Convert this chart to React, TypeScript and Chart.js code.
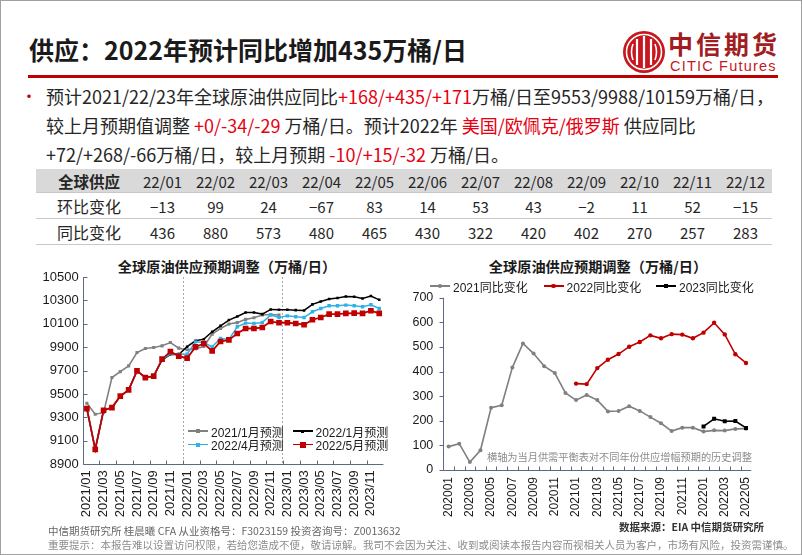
import React, { useEffect, useRef } from "react";
import { Chart, registerables } from "chart.js";
Chart.register(...registerables);

// ---------------- data ----------------
const leftLabels = [
  "2021/01","2021/02","2021/03","2021/04","2021/05","2021/06","2021/07","2021/08","2021/09","2021/10","2021/11","2021/12",
  "2022/01","2022/02","2022/03","2022/04","2022/05","2022/06","2022/07","2022/08","2022/09","2022/10","2022/11","2022/12",
  "2023/01","2023/02","2023/03","2023/04","2023/05","2023/06","2023/07","2023/08","2023/09","2023/10","2023/11","2023/12",
];
const fc2021Jan = [
  9422, 9328, 9341, 9641, 9692, 9741, 9855, 9889, 9898, 9912, 9940, 9892,
  9878, 9888, 9906, 10012, 10060, 10098, 10110, 10138, 10152, 10175, 10180, 10175,
  null, null, null, null, null, null, null, null, null, null, null, null,
];
const fc2022Jan = [
  9376, 9028, 9362, 9384, 9482, 9536, 9698, 9641, 9653, 9790, 9840, 9838,
  9905, 9955, 9969, 10032, 10083, 10132, 10163, 10197, 10196, 10183, 10223, 10220,
  10220, 10217, 10214, 10266, 10291, 10312, 10320, 10334, 10331, 10317, 10337, 10305,
];
const fc2022Apr = [
  9376, 9028, 9362, 9384, 9482, 9536, 9698, 9641, 9653, 9795, 9845, 9842,
  9841, 9946, 9940, 9903, 9976, 9966, 10075, 10106, 10103, 10111, 10176, 10154,
  10168, 10160, 10154, 10203, 10231, 10254, 10254, 10260, 10254, 10246, 10263, 10231,
];
const fc2022May = [
  9376, 9028, 9362, 9384, 9482, 9536, 9698, 9641, 9653, 9798, 9863, 9824,
  9807, 9903, 9932, 9869, 9949, 9963, 10017, 10060, 10060, 10069, 10120, 10109,
  10109, 10103, 10092, 10135, 10154, 10183, 10183, 10189, 10192, 10189, 10212, 10189,
];

const rightLabels = [
  "202001","202002","202003","202004","202005","202006","202007","202008","202009","202010","202011","202012",
  "202101","202102","202103","202104","202105","202106","202107","202108","202109","202110","202111","202112",
  "202201","202202","202203","202204","202205",
];
const yoy2021 = [95, 107, 32, 80, 253, 263, 416, 514, 473, 422, 394, 313, 284, 305, 284, 238, 240, 259, 240, 215, 190, 158, 172, 172, 156, 161, 160, 167, 168];
const yoy2022 = [null, null, null, null, null, null, null, null, null, null, null, null, 351, 349, 414, 448, 471, 501, 520, 547, 535, 552, 550, 535, 558, 598, 551, 470, 435];
const yoy2023 = [null, null, null, null, null, null, null, null, null, null, null, null, null, null, null, null, null, null, null, null, null, null, null, null, 177, 208, 198, 199, 171];

const tableMonths = ["22/01","22/02","22/03","22/04","22/05","22/06","22/07","22/08","22/09","22/10","22/11","22/12"];
const momChange = [-13, 99, 24, -67, 83, 14, 53, 43, -2, 11, 52, -15];
const yoyChange = [436, 880, 573, 480, 465, 430, 322, 420, 402, 270, 257, 283];

// ---------------- styles ----------------
const CJK = "'Noto Sans CJK SC', 'Noto Sans', sans-serif";
const LAT = "'Liberation Sans', 'Noto Sans CJK SC', Arial, sans-serif";
const RED_TXT = "#e60012";
const GRAY = "#808080";
const DARKRED = "#c00000";
const BLUE = "#2fb2e8";
const AXIS = "#5b6a82";

const decorPlugin = {
  id: "decor",
  beforeDatasetsDraw(chart: any, _a: any, opts: any) {
    const { ctx, chartArea: a, scales } = chart;
    const xs = scales.x, ys = scales.y;
    ctx.save();
    if (opts.dashed) {
      ctx.strokeStyle = "#a6a6a6";
      ctx.lineWidth = 1;
      ctx.setLineDash([2, 2]);
      for (const v of opts.dashed) {
        const px = Math.round(xs.getPixelForValue(v)) + 0.5;
        ctx.beginPath(); ctx.moveTo(px, a.top); ctx.lineTo(px, a.bottom); ctx.stroke();
      }
      ctx.setLineDash([]);
    }
    ctx.strokeStyle = opts.axisColor;
    ctx.lineWidth = 1;
    const L = Math.round(a.left) + 0.5, B = Math.round(a.bottom) + 0.5;
    ctx.beginPath(); ctx.moveTo(L, a.top); ctx.lineTo(L, B); ctx.lineTo(a.right, B); ctx.stroke();
    for (const t of ys.ticks) {
      const py = Math.round(ys.getPixelForValue(t.value)) + 0.5;
      ctx.beginPath(); ctx.moveTo(L + opts.yTick, py); ctx.lineTo(L, py); ctx.stroke();
    }
    const n = xs.getLabels().length;
    for (let i = opts.xTickStart; i < n - 1; i += opts.xTickStep) {
      const px = Math.round(xs.getPixelForValue(i + 0.5)) + 0.5;
      ctx.beginPath(); ctx.moveTo(px, B); ctx.lineTo(px, B - opts.xTick); ctx.stroke();
    }
    ctx.restore();
  },
};

function everyOther(this: any, val: any, idx: number) {
  return idx % 2 === 0 ? this.getLabelForValue(val) : "";
}

function LeftChart() {
  const ref = useRef<HTMLCanvasElement>(null);
  useEffect(() => {
    const line = (label: string, data: any[], color: string, r: number, w: number, order: number) => ({
      label, data, borderColor: color, backgroundColor: color, borderWidth: w,
      pointStyle: "rect", pointRadius: r, pointBorderWidth: 0, pointBackgroundColor: color,
      tension: 0, spanGaps: false, order,
    });
    const chart = new Chart(ref.current!, {
      type: "line",
      data: {
        labels: leftLabels,
        datasets: [
          line("2021/1月预测", fc2021Jan, GRAY, 2.2, 1.6, 3),
          line("2022/1月预测", fc2022Jan, "#000000", 1.8, 1.5, 2),
          line("2022/4月预测", fc2022Apr, BLUE, 2.4, 1.5, 1),
          line("2022/5月预测", fc2022May, DARKRED, 4, 1.8, 0),
        ],
      },
      options: {
        animation: false,
        responsive: false,
        maintainAspectRatio: false,
        layout: { padding: { top: 18, right: 10.7, left: 0, bottom: 0 } },
        plugins: {
          legend: { display: false },
          tooltip: { enabled: false },
          decor: { dashed: [11.5, 23.3], axisColor: AXIS, yTick: 4, xTick: 4, xTickStart: 1, xTickStep: 2 },
        } as any,
        scales: {
          x: {
            type: "category",
            offset: true,
            grid: { display: false, drawTicks: false },
            border: { display: false },
            ticks: {
              autoSkip: false, minRotation: 90, maxRotation: 90, padding: 6,
              color: "#1a1a1a", font: { family: LAT, size: 13 },
              callback: everyOther,
            },
            afterFit: (s: any) => { s.height = 64.7; },
          },
          y: {
            min: 8900, max: 10500,
            grid: { display: false, drawTicks: false },
            border: { display: false },
            ticks: {
              stepSize: 200, padding: 4, color: "#1a1a1a", font: { family: LAT, size: 13 },
              callback: (v: any) => String(v),
            },
            afterFit: (s: any) => { s.width = 81.7; },
          },
        },
      },
      plugins: [decorPlugin],
    } as any);
    return () => chart.destroy();
  }, []);
  return <canvas ref={ref} width={400} height={270} style={{ position: "absolute", left: 0, top: 258, width: 400, height: 270 }} />;
}

function RightChart() {
  const ref = useRef<HTMLCanvasElement>(null);
  useEffect(() => {
    const line = (label: string, data: any[], color: string, style: string, r: number, order: number) => ({
      label, data, borderColor: color, backgroundColor: color, borderWidth: 1.6,
      pointStyle: style, pointRadius: r, pointBorderWidth: 0, pointBackgroundColor: color,
      tension: 0, spanGaps: false, order,
    });
    const chart = new Chart(ref.current!, {
      type: "line",
      data: {
        labels: rightLabels,
        datasets: [
          line("2021同比变化", yoy2021, GRAY, "circle", 2, 2),
          line("2022同比变化", yoy2022, DARKRED, "circle", 2.2, 1),
          line("2023同比变化", yoy2023, "#000000", "rect", 2.8, 0),
        ],
      },
      options: {
        animation: false,
        responsive: false,
        maintainAspectRatio: false,
        layout: { padding: { top: 38.7, right: 51.7, left: 0, bottom: 0 } },
        plugins: {
          legend: { display: false },
          tooltip: { enabled: false },
          decor: { axisColor: AXIS, yTick: -4, xTick: 4, xTickStart: 0, xTickStep: 1 },
        } as any,
        scales: {
          x: {
            type: "category",
            offset: true,
            grid: { display: false, drawTicks: false },
            border: { display: false },
            ticks: {
              autoSkip: false, minRotation: 90, maxRotation: 90, padding: 7,
              color: "#1a1a1a", font: { family: LAT, size: 12 },
              callback: everyOther,
            },
            afterFit: (s: any) => { s.height = 59; },
          },
          y: {
            min: 0, max: 700,
            grid: { display: false, drawTicks: false },
            border: { display: false },
            ticks: {
              stepSize: 100, padding: 10, color: "#1a1a1a", font: { family: LAT, size: 12.5 },
              callback: (v: any) => String(v),
            },
            afterFit: (s: any) => { s.width = 42.3; },
          },
        },
      },
      plugins: [decorPlugin],
    } as any);
    return () => chart.destroy();
  }, []);
  return <canvas ref={ref} width={402} height={270} style={{ position: "absolute", left: 400, top: 258, width: 402, height: 270 }} />;
}

function Sym({ color, shape, size, w = 20 }: { color: string; shape: string; size: number; w?: number }) {
  return (
    <span style={{ position: "relative", display: "inline-block", width: w, height: 10 }}>
      <span style={{ position: "absolute", left: 0, width: w, top: 4.2, height: 1.6, background: color }} />
      <span style={{ position: "absolute", left: w / 2 - size / 2, top: 5 - size / 2, width: size, height: size, background: color, borderRadius: shape === "circle" ? "50%" : 0 }} />
    </span>
  );
}

function LegendItem({ x, y, color, shape, size, label, fs = 12, w = 20 }: any) {
  return (
    <div style={{ position: "absolute", left: x, top: y - 9, height: 18, display: "flex", alignItems: "center", whiteSpace: "nowrap", fontFamily: LAT, fontSize: fs, color: "#1a1a1a" }}>
      <Sym color={color} shape={shape} size={size} w={w} />
      <span style={{ marginLeft: 3 }}>{label}</span>
    </div>
  );
}

function Centered({ x, y, children, style }: any) {
  return (
    <div style={{ position: "absolute", left: x, top: y, transform: "translate(-50%, -50%)", whiteSpace: "nowrap", ...style }}>{children}</div>
  );
}

const R = ({ children }: any) => <span style={{ color: RED_TXT }}>{children}</span>;

function Logo() {
  return (
    <>
      <svg width={44} height={44} viewBox="0 0 44 44" style={{ position: "absolute", left: 621, top: 29 }}>
        <circle cx={22} cy={22} r={21} fill="#c8161d" />
        <circle cx={22} cy={22} r={17.5} fill="none" stroke="#fff" strokeWidth={1.6} />
        <path d="M15 9 L15 35 M22 6 L22 38 M29 9 L29 35" stroke="#fff" strokeWidth={2.2} />
        <path d="M11 14 Q8 22 11 30 M33 14 Q36 22 33 30" stroke="#fff" strokeWidth={1.6} fill="none" />
      </svg>
      <div style={{ position: "absolute", left: 667, top: 27, fontFamily: CJK, fontWeight: 700, fontSize: 25, lineHeight: "30px", color: "#a11d21", letterSpacing: 3 }}>中信期货</div>
      <div style={{ position: "absolute", left: 669, top: 57, fontFamily: "'Liberation Sans', Arial, sans-serif", fontSize: 14.5, lineHeight: "16px", color: "#c8161d", letterSpacing: 1.2 }}>CITIC Futures</div>
    </>
  );
}

function Table() {
  const left = 35, firstW = 100, colW = 53;
  const rowStyle = (top: number, h: number, bg?: string): React.CSSProperties => ({
    position: "absolute", left, top, width: firstW + colW * 12, height: h, background: bg || "transparent",
    borderBottom: "1px solid #c8c8c8", boxSizing: "border-box",
  });
  const cell = (x: number, y: number, text: any, extra: any = {}) => (
    <Centered x={x} y={y} style={{ fontFamily: CJK, fontSize: 15, color: "#262626", ...extra }}>{text}</Centered>
  );
  const fmt = (v: number) => (v < 0 ? "−" + Math.abs(v) : String(v));
  const labelX = left + 53;
  return (
    <>
      <div style={rowStyle(168, 24, "#d9d9d9")} />
      <div style={rowStyle(192, 26)} />
      <div style={rowStyle(218, 26)} />
      {cell(labelX, 180, "全球供应", { fontWeight: 700, fontSize: 15.5 })}
      {cell(labelX, 205, "环比变化", { fontSize: 16 })}
      {cell(labelX, 231, "同比变化", { fontSize: 16 })}
      {tableMonths.map((m, i) => (
        <React.Fragment key={m}>
          {cell(left + firstW + colW * i + colW / 2, 180, m)}
          {cell(left + firstW + colW * i + colW / 2, 205, fmt(momChange[i]))}
          {cell(left + firstW + colW * i + colW / 2, 231, fmt(yoyChange[i]))}
        </React.Fragment>
      ))}
    </>
  );
}

export default function App() {
  const textLine = (y: number, content: any) => (
    <div style={{ position: "absolute", left: 45, top: y - 14.5, height: 29, lineHeight: "29px", whiteSpace: "nowrap", fontFamily: CJK, fontSize: 18, color: "#262626" }}>{content}</div>
  );
  return (
    <div style={{ position: "fixed", left: 0, top: 0, width: 802, height: 555, background: "#fff", overflow: "hidden", boxSizing: "border-box", border: "1px solid #a0a0a0", fontFamily: CJK }}>
      <div style={{ position: "absolute", left: 28, top: 30, lineHeight: "36px", fontFamily: CJK, fontWeight: 700, fontSize: 25, color: "#1a1a1a", whiteSpace: "nowrap" }}>
        供应：2022年预计同比增加435万桶/日
      </div>
      <Logo />
      <div style={{ position: "absolute", left: 27, top: 74, width: 750, height: 3, background: "#c00000" }} />

      <div style={{ position: "absolute", left: 20, top: 80, lineHeight: "29px", fontSize: 16, color: "#c00000" }}>•</div>
      {textLine(95, <>预计2021/22/23年全球原油供应同比<R>+168/+435/+171</R>万桶/日至9553/9988/10159万桶/日，</>)}
      {textLine(124, <>较上月预期值调整 <R>+0/-34/-29</R> 万桶/日。预计2022年 <R>美国/欧佩克/俄罗斯</R> 供应同比</>)}
      {textLine(153, <>+72/+268/-66万桶/日，较上月预期 <R>-10/+15/-32</R> 万桶/日。</>)}

      <Table />

      <Centered x={226} y={265} style={{ fontFamily: CJK, fontWeight: 700, fontSize: 14.2, color: "#1a1a1a" }}>全球原油供应预期调整（万桶/日）</Centered>
      <Centered x={597} y={265} style={{ fontFamily: CJK, fontWeight: 700, fontSize: 14.2, color: "#1a1a1a" }}>全球原油供应预期调整（万桶/日）</Centered>

      <LeftChart />
      <RightChart />

      <LegendItem x={187} y={430} color={GRAY} shape="rect" size={3.5} label="2021/1月预测" />
      <LegendItem x={291.5} y={430} color="#000" shape="rect" size={3} label="2022/1月预测" />
      <LegendItem x={187} y={443.5} color={BLUE} shape="rect" size={4} label="2022/4月预测" />
      <LegendItem x={291.5} y={443.5} color={DARKRED} shape="rect" size={6} label="2022/5月预测" />

      <LegendItem x={429} y={285} color={GRAY} shape="circle" size={4} label="2021同比变化" />
      <LegendItem x={542.5} y={285} color={DARKRED} shape="circle" size={4.5} label="2022同比变化" />
      <LegendItem x={655} y={285} color="#000" shape="rect" size={4} label="2023同比变化" />

      <div style={{ position: "absolute", left: 486, top: 449, lineHeight: "14px", fontFamily: CJK, fontSize: 10.2, color: "#8c8c8c", whiteSpace: "nowrap" }}>
        横轴为当月供需平衡表对不同年份供应增幅预期的历史调整
      </div>

      <div style={{ position: "absolute", left: 618, top: 519, lineHeight: "14px", fontFamily: CJK, fontSize: 10.5, fontWeight: 700, color: "#333", whiteSpace: "nowrap" }}>
        数据来源：EIA 中信期货研究所
      </div>
      <div style={{ position: "absolute", left: 47, top: 523, lineHeight: "14px", fontFamily: CJK, fontSize: 10.5, color: "#666", whiteSpace: "nowrap" }}>
        中信期货研究所 桂晨曦 CFA 从业资格号：F3023159 投资咨询号：Z0013632
      </div>
      <div style={{ position: "absolute", left: 47, top: 537, lineHeight: "14px", fontFamily: CJK, fontSize: 10.5, color: "#8c8c8c", whiteSpace: "nowrap" }}>
        重要提示：本报告难以设置访问权限，若给您造成不便，敬请谅解。我司不会因为关注、收到或阅读本报告内容而视相关人员为客户，市场有风险，投资需谨慎。
      </div>
    </div>
  );
}
